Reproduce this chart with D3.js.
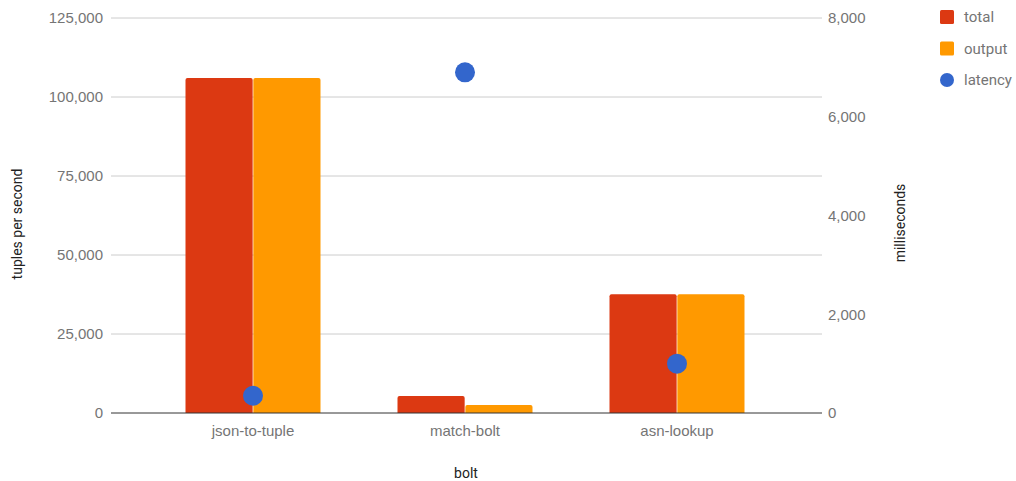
<!DOCTYPE html>
<html>
<head>
<meta charset="utf-8">
<script src="https://cdn.jsdelivr.net/npm/d3@7"></script>
<style>
  body { margin: 0; background: #fff; }
  svg { display: block; font-family: Roboto, Arial, sans-serif; }
  .tick text { fill: #757575; font-size: 15px; }
</style>
</head>
<body>
<svg id="chart" width="1016" height="481"></svg>
<script>
// Throughput per bolt (tuples per second) and latency (milliseconds)
const categories = ["json-to-tuple", "match-bolt", "asn-lookup"];
const totalValues = [106000, 5400, 37600];
const outputValues = [106000, 2500, 37600];
const latencyValues = [350, 6900, 1000];
const leftTicks = [0, 25000, 50000, 75000, 100000, 125000];
const rightTicks = [0, 2000, 4000, 6000, 8000];
const seriesNames = ["total", "output", "latency"];
const seriesColors = ["#dc3912", "#ff9900", "#3366cc"];

const svg = d3.select("#chart");
const plotLeft = 111, plotRight = 822, plotTop = 18, plotBottom = 413;

const x = d3.scaleBand().domain(categories).range([147, 783]).paddingInner(0).paddingOuter(0);
const yLeft = d3.scaleLinear().domain([0, 125000]).range([plotBottom, plotTop]);
const yRight = d3.scaleLinear().domain([0, 8000]).range([plotBottom, plotTop]);
const fmt = d3.format(",");

// gridlines
svg.append("g").selectAll("line").data(leftTicks.filter(d => d > 0)).join("line")
  .attr("x1", plotLeft).attr("x2", plotRight)
  .attr("y1", d => yLeft(d)).attr("y2", d => yLeft(d))
  .attr("stroke", "#cccccc").attr("stroke-width", 1);

// left axis
const gl = svg.append("g").attr("transform", `translate(${plotLeft},0)`)
  .call(d3.axisLeft(yLeft).tickValues(leftTicks).tickFormat(fmt).tickSize(0).tickPadding(8));
gl.select(".domain").remove();

// right axis
const gr = svg.append("g").attr("transform", `translate(${plotRight},0)`)
  .call(d3.axisRight(yRight).tickValues(rightTicks).tickFormat(fmt).tickSize(0).tickPadding(6));
gr.select(".domain").remove();

// bars
const barW = 67;
const inner = d3.scaleBand().domain(["total", "output"]).range([x.bandwidth() / 2 - barW - 0.5, x.bandwidth() / 2 + barW + 0.5]).paddingInner(0.01);
const barData = categories.flatMap((c, i) => [
  { c, key: "total", v: totalValues[i], color: seriesColors[0] },
  { c, key: "output", v: outputValues[i], color: seriesColors[1] }
]);
svg.append("g").selectAll("path").data(barData).join("path")
  .attr("fill", d => d.color)
  .attr("d", d => {
    const x0 = x(d.c) + inner(d.key), w = inner.bandwidth();
    const y0 = yLeft(d.v), y1 = yLeft(0), r = 2;
    return `M${x0},${y1}V${y0 + r}Q${x0},${y0} ${x0 + r},${y0}H${x0 + w - r}Q${x0 + w},${y0} ${x0 + w},${y0 + r}V${y1}Z`;
  });

// baseline
svg.append("line").attr("x1", plotLeft).attr("x2", plotRight)
  .attr("y1", yLeft(0)).attr("y2", yLeft(0)).attr("stroke", "#333").attr("stroke-width", 1);

// latency points
svg.append("g").selectAll("circle").data(categories).join("circle")
  .attr("cx", c => x(c) + x.bandwidth() / 2)
  .attr("cy", (c, i) => yRight(latencyValues[i]))
  .attr("r", 10).attr("fill", seriesColors[2]);

// category labels
const gx = svg.append("g").attr("transform", `translate(0,${plotBottom})`)
  .call(d3.axisBottom(x).tickSize(0).tickPadding(12));
gx.select(".domain").remove();

// axis titles
svg.append("text").attr("transform", `translate(17,224) rotate(-90)`)
  .attr("text-anchor", "middle").attr("dy", "0.35em").attr("fill", "#222").attr("font-size", 14).text("tuples per second");
svg.append("text").attr("transform", `translate(900,223) rotate(-90)`)
  .attr("text-anchor", "middle").attr("dy", "0.35em").attr("fill", "#222").attr("font-size", 14).text("milliseconds");
svg.append("text").attr("x", 466).attr("y", 473).attr("dy", "0.35em")
  .attr("text-anchor", "middle").attr("fill", "#222").attr("font-size", 14).text("bolt");

// legend
const lg = svg.append("g").attr("transform", "translate(940,0)");
seriesNames.forEach((name, i) => {
  const cy = 17 + i * 31.5;
  if (i < 2) {
    lg.append("rect").attr("x", 0).attr("y", cy - 7).attr("width", 14).attr("height", 14)
      .attr("rx", 1.5).attr("fill", seriesColors[i]);
  } else {
    lg.append("circle").attr("cx", 7).attr("cy", cy).attr("r", 7).attr("fill", seriesColors[i]);
  }
  lg.append("text").attr("x", 24).attr("y", cy).attr("dy", "0.35em")
    .attr("fill", "#757575").attr("font-size", 15).text(name);
});
</script>
</body>
</html>
